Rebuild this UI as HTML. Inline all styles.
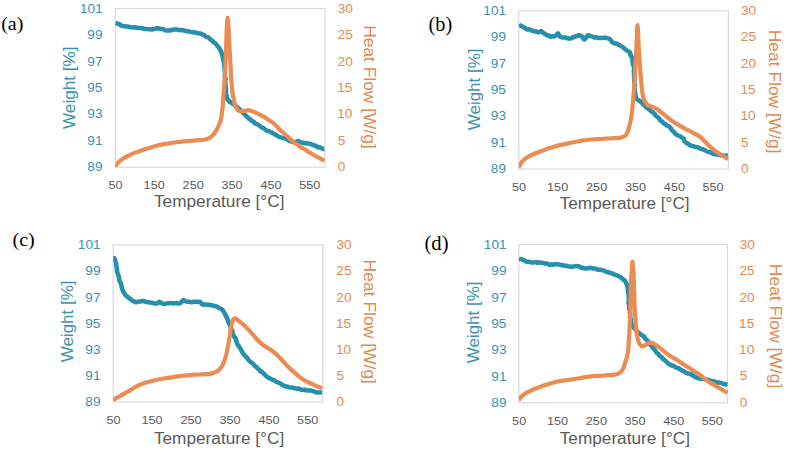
<!DOCTYPE html>
<html><head><meta charset="utf-8"><style>
html,body{margin:0;padding:0;background:#fff;}
body{width:787px;height:451px;overflow:hidden;}
svg{display:block;}
</style></head><body>
<svg width="787" height="451" viewBox="0 0 787 451">
<rect width="787" height="451" fill="#fff"/>
<rect x="115.30" y="8.50" width="209.70" height="158.70" fill="none" stroke="#D9D9D9" stroke-width="1.2"/>
<clipPath id="ca"><rect x="115.30" y="2.50" width="210.20" height="164.70"/></clipPath>
<g clip-path="url(#ca)">
<path d="M115.2,22.5 L115.6,22.9 L116.5,23.1 L117.3,23.6 L118.2,23.9 L119.2,24.0 L119.9,24.4 L120.6,25.1 L121.3,25.6 L122.2,25.7 L122.9,26.0 L123.8,26.2 L124.8,26.2 L125.7,26.4 L126.7,26.5 L127.6,26.5 L128.5,26.7 L129.4,27.0 L130.4,27.1 L131.3,27.3 L132.2,27.4 L133.2,27.3 L134.1,27.3 L135.0,27.5 L135.9,27.5 L136.8,27.7 L137.7,27.9 L138.6,28.1 L139.5,28.1 L140.4,28.0 L141.3,28.0 L142.3,28.2 L143.2,28.5 L144.1,28.8 L145.0,29.0 L145.9,29.0 L146.8,28.9 L147.8,29.1 L148.7,29.3 L149.6,29.3 L150.5,29.2 L151.5,29.4 L152.4,29.5 L153.3,29.1 L154.2,28.9 L155.1,28.8 L156.0,28.5 L156.9,28.3 L157.8,28.3 L158.7,28.5 L159.6,28.7 L160.5,28.7 L161.5,28.9 L162.4,29.1 L163.4,29.1 L164.2,29.7 L165.0,30.3 L166.0,30.4 L167.0,30.4 L167.9,30.5 L168.7,30.5 L169.7,30.5 L170.6,30.4 L171.4,30.0 L172.2,29.7 L172.9,29.6 L174.1,29.4 L175.3,29.4 L176.0,29.6 L176.9,29.4 L177.8,29.6 L178.7,30.0 L179.7,30.2 L180.6,30.1 L181.6,29.9 L182.4,30.1 L183.3,30.4 L184.2,30.4 L185.1,30.8 L186.0,31.2 L186.9,31.2 L187.8,31.2 L188.6,31.4 L189.5,31.7 L190.4,31.9 L191.3,32.1 L192.2,32.2 L193.0,32.2 L193.9,32.4 L194.8,32.5 L195.7,32.6 L196.5,32.9 L197.5,32.9 L198.3,33.1 L199.2,33.4 L200.2,33.5 L201.1,33.7 L202.0,34.1 L202.7,34.6 L203.6,34.9 L204.4,35.2 L205.0,35.9 L205.7,36.5 L206.5,36.9 L207.3,37.1 L208.3,37.3 L209.0,37.9 L209.6,38.7 L210.3,39.2 L210.9,39.8 L211.6,40.3 L212.3,40.8 L212.9,41.3 L213.5,42.0 L214.0,42.6 L214.7,43.1 L215.5,43.5 L216.2,44.1 L216.7,44.9 L217.2,45.7 L217.8,46.5 L218.4,47.1 L219.0,47.7 L219.4,48.6 L219.8,49.4 L220.3,50.1 L220.9,50.8 L221.2,51.7 L221.4,52.4 L221.7,53.1 L221.9,53.8 L222.0,54.6 L222.4,55.5 L222.8,56.5 L222.8,57.2 L222.8,58.0 L223.0,58.7 L223.3,59.5 L223.4,60.4 L223.6,61.3 L224.0,62.2 L224.1,63.1 L224.2,64.0 L224.5,64.9 L224.4,65.7 L224.1,66.6 L224.5,67.3 L224.7,68.1 L224.6,68.9 L224.7,69.8 L224.7,70.6 L224.7,71.5 L225.0,72.3 L225.0,73.2 L225.0,74.1 L224.9,75.0 L224.8,75.8 L224.9,76.5 L225.1,77.3 L225.5,78.1 L225.6,78.9 L225.4,79.8 L225.3,80.6 L225.2,81.5 L225.3,82.3 L225.4,83.1 L225.4,83.9 L225.3,84.7 L225.6,85.5 L225.7,86.3 L225.8,87.0 L225.9,88.0 L226.0,88.9 L226.0,89.9 L225.9,90.9 L226.0,91.8 L226.1,92.7 L225.9,93.6 L225.9,94.4 L226.4,95.1 L226.7,95.8 L226.4,96.5 L226.6,97.7 L227.2,98.5 L227.4,99.3 L227.9,99.9 L228.6,100.4 L229.1,101.2 L229.6,102.0 L230.6,102.2 L231.6,102.6 L232.1,103.2 L232.6,103.8 L233.2,104.3 L233.9,104.6 L234.7,105.1 L235.3,105.7 L236.0,106.2 L236.7,106.6 L237.3,107.2 L237.9,107.8 L238.5,108.5 L239.3,109.0 L240.0,109.5 L240.6,110.1 L241.2,110.7 L241.9,111.3 L242.6,111.9 L243.1,112.7 L243.6,113.4 L244.3,114.0 L244.9,114.6 L245.6,115.2 L246.1,115.9 L246.8,116.6 L247.6,117.1 L248.2,117.7 L248.7,118.5 L249.5,119.0 L250.4,119.3 L251.0,119.9 L251.5,120.6 L252.2,121.0 L253.0,121.4 L253.7,121.7 L254.2,122.4 L254.6,123.2 L255.3,123.7 L256.2,123.9 L257.0,124.1 L257.8,124.5 L258.5,124.9 L259.2,125.5 L259.9,126.1 L260.6,126.6 L261.3,127.1 L262.0,127.5 L262.9,127.8 L263.6,128.2 L264.3,128.8 L264.9,129.3 L265.6,129.8 L266.3,130.3 L267.1,130.6 L267.8,130.9 L268.7,131.1 L269.5,131.4 L270.2,131.9 L270.9,132.3 L271.7,132.5 L272.3,133.0 L273.0,133.5 L274.0,133.6 L274.7,134.0 L275.2,134.6 L276.0,135.1 L276.8,135.3 L277.5,135.7 L278.2,136.3 L279.0,136.9 L279.9,137.2 L280.7,137.3 L281.5,137.6 L282.4,137.9 L283.3,138.1 L284.2,138.2 L285.1,138.5 L285.9,138.9 L286.8,139.3 L287.6,139.7 L288.4,140.3 L289.2,140.7 L290.0,141.1 L290.8,141.3 L291.7,141.5 L292.6,142.0 L293.4,142.3 L294.3,142.3 L295.0,142.2 L296.1,142.0 L296.9,141.4 L297.9,141.1 L298.7,141.2 L299.5,141.6 L300.3,142.1 L301.1,142.3 L301.9,142.4 L302.9,142.8 L303.8,142.9 L304.9,143.1 L305.6,143.4 L306.4,143.6 L307.2,143.6 L308.2,143.6 L309.1,143.6 L310.0,143.8 L310.8,144.1 L311.6,144.4 L312.4,144.8 L313.2,145.0 L314.0,145.3 L314.9,145.6 L315.8,145.6 L316.5,146.2 L317.2,147.0 L318.1,147.3 L319.0,147.3 L319.9,147.5 L320.9,147.8 L321.9,148.3 L322.8,148.9 L323.7,149.0 L324.4,149.0" fill="none" stroke="#2490AD" stroke-width="4.5" stroke-linejoin="round" stroke-linecap="butt"/>
<path d="M115.30,166.80 C115.52,166.42 115.95,165.38 116.60,164.50 C117.25,163.62 118.03,162.55 119.20,161.50 C120.37,160.45 121.97,159.23 123.60,158.20 C125.23,157.17 127.07,156.23 129.00,155.30 C130.93,154.37 133.13,153.42 135.20,152.60 C137.27,151.78 139.18,151.13 141.40,150.40 C143.62,149.67 146.13,148.93 148.50,148.20 C150.87,147.47 153.23,146.63 155.60,146.00 C157.97,145.37 160.30,144.87 162.70,144.40 C165.10,143.93 167.60,143.57 170.00,143.20 C172.40,142.83 174.73,142.52 177.10,142.20 C179.47,141.88 181.83,141.52 184.20,141.30 C186.57,141.08 188.93,141.08 191.30,140.90 C193.67,140.72 196.03,140.43 198.40,140.20 C200.77,139.97 203.73,139.83 205.50,139.50 C207.27,139.17 207.82,138.87 209.00,138.20 C210.18,137.53 211.42,136.77 212.60,135.50 C213.78,134.23 215.07,132.30 216.10,130.60 C217.13,128.90 217.98,127.23 218.80,125.30 C219.62,123.37 220.42,121.55 221.00,119.00 C221.58,116.45 221.93,113.17 222.30,110.00 C222.67,106.83 222.93,103.33 223.20,100.00 C223.47,96.67 223.62,94.17 223.90,90.00 C224.18,85.83 224.62,80.00 224.90,75.00 C225.18,70.00 225.38,65.00 225.60,60.00 C225.82,55.00 226.02,50.00 226.20,45.00 C226.38,40.00 226.47,34.58 226.70,30.00 C226.93,25.42 227.28,17.50 227.60,17.50 C227.92,17.50 228.30,25.42 228.60,30.00 C228.90,34.58 229.13,40.00 229.40,45.00 C229.67,50.00 229.97,55.83 230.20,60.00 C230.43,64.17 230.58,66.40 230.80,70.00 C231.02,73.60 231.22,77.77 231.50,81.60 C231.78,85.43 232.12,90.02 232.50,93.00 C232.88,95.98 233.37,97.45 233.80,99.50 C234.23,101.55 234.43,103.52 235.10,105.30 C235.77,107.08 236.77,109.23 237.80,110.20 C238.83,111.17 239.98,111.03 241.30,111.10 C242.62,111.17 244.37,110.73 245.70,110.60 C247.03,110.47 247.97,110.10 249.30,110.30 C250.63,110.50 252.22,111.22 253.70,111.80 C255.18,112.38 256.57,113.00 258.20,113.80 C259.83,114.60 261.73,115.57 263.50,116.60 C265.27,117.63 267.05,118.83 268.80,120.00 C270.55,121.17 272.13,121.98 274.00,123.60 C275.87,125.22 278.17,127.93 280.00,129.70 C281.83,131.47 283.33,132.67 285.00,134.20 C286.67,135.73 288.33,137.40 290.00,138.90 C291.67,140.40 293.33,141.92 295.00,143.20 C296.67,144.48 298.33,145.55 300.00,146.60 C301.67,147.65 303.33,148.47 305.00,149.50 C306.67,150.53 308.33,151.75 310.00,152.80 C311.67,153.85 313.33,154.87 315.00,155.80 C316.67,156.73 318.43,157.53 320.00,158.40 C321.57,159.27 323.67,160.57 324.40,161.00" fill="none" stroke="#EB8C52" stroke-width="4.2" stroke-linejoin="round" stroke-linecap="butt"/>
</g>
<text x="79.89" y="12.68" font-family="Liberation Sans" font-size="13" fill="#3C92AF" textLength="22.77" lengthAdjust="spacingAndGlyphs">101</text>
<text x="87.39" y="39.14" font-family="Liberation Sans" font-size="13" fill="#3C92AF" textLength="15.18" lengthAdjust="spacingAndGlyphs">99</text>
<text x="87.39" y="65.59" font-family="Liberation Sans" font-size="13" fill="#3C92AF" textLength="15.18" lengthAdjust="spacingAndGlyphs">97</text>
<text x="87.26" y="92.03" font-family="Liberation Sans" font-size="13" fill="#3C92AF" textLength="15.18" lengthAdjust="spacingAndGlyphs">95</text>
<text x="87.39" y="118.48" font-family="Liberation Sans" font-size="13" fill="#3C92AF" textLength="15.18" lengthAdjust="spacingAndGlyphs">93</text>
<text x="87.39" y="144.94" font-family="Liberation Sans" font-size="13" fill="#3C92AF" textLength="15.18" lengthAdjust="spacingAndGlyphs">91</text>
<text x="87.39" y="171.38" font-family="Liberation Sans" font-size="13" fill="#3C92AF" textLength="15.18" lengthAdjust="spacingAndGlyphs">89</text>
<text x="337.75" y="12.68" font-family="Liberation Sans" font-size="13" fill="#DF8A50" textLength="15.18" lengthAdjust="spacingAndGlyphs">30</text>
<text x="337.62" y="39.14" font-family="Liberation Sans" font-size="13" fill="#DF8A50" textLength="15.18" lengthAdjust="spacingAndGlyphs">25</text>
<text x="337.62" y="65.59" font-family="Liberation Sans" font-size="13" fill="#DF8A50" textLength="15.18" lengthAdjust="spacingAndGlyphs">20</text>
<text x="337.21" y="91.97" font-family="Liberation Sans" font-size="13" fill="#DF8A50" textLength="15.18" lengthAdjust="spacingAndGlyphs">15</text>
<text x="337.21" y="118.48" font-family="Liberation Sans" font-size="13" fill="#DF8A50" textLength="15.18" lengthAdjust="spacingAndGlyphs">10</text>
<text x="337.75" y="144.87" font-family="Liberation Sans" font-size="13" fill="#DF8A50" textLength="7.59" lengthAdjust="spacingAndGlyphs">5</text>
<text x="337.75" y="171.38" font-family="Liberation Sans" font-size="13" fill="#DF8A50" textLength="7.59" lengthAdjust="spacingAndGlyphs">0</text>
<text x="108.52" y="189.37" font-family="Liberation Sans" font-size="11.5" fill="#595959" textLength="14.07" lengthAdjust="spacingAndGlyphs">50</text>
<text x="143.62" y="189.37" font-family="Liberation Sans" font-size="11.5" fill="#595959" textLength="21.10" lengthAdjust="spacingAndGlyphs">150</text>
<text x="182.64" y="189.37" font-family="Liberation Sans" font-size="11.5" fill="#595959" textLength="21.10" lengthAdjust="spacingAndGlyphs">250</text>
<text x="221.54" y="189.37" font-family="Liberation Sans" font-size="11.5" fill="#595959" textLength="21.10" lengthAdjust="spacingAndGlyphs">350</text>
<text x="260.50" y="189.37" font-family="Liberation Sans" font-size="11.5" fill="#595959" textLength="21.10" lengthAdjust="spacingAndGlyphs">450</text>
<text x="299.20" y="189.37" font-family="Liberation Sans" font-size="11.5" fill="#595959" textLength="21.10" lengthAdjust="spacingAndGlyphs">550</text>
<text x="1.20" y="29.87" font-family="Liberation Serif" font-size="19.67" fill="#000" textLength="22.30" lengthAdjust="spacingAndGlyphs">(a)</text>
<text transform="translate(74.96,129.00) rotate(-90)" font-family="Liberation Sans" font-size="15.91" fill="#3C92AF" textLength="82.54" lengthAdjust="spacingAndGlyphs">Weight [%]</text>
<text transform="translate(364.01,25.21) rotate(90)" font-family="Liberation Sans" font-size="16.24" fill="#DF8A50" textLength="123.55" lengthAdjust="spacingAndGlyphs">Heat Flow [W/g]</text>
<text x="153.96" y="207.03" font-family="Liberation Sans" font-size="16.29" fill="#595959" textLength="130.53" lengthAdjust="spacingAndGlyphs">Temperature [°C]</text>
<rect x="518.80" y="10.80" width="209.50" height="158.20" fill="none" stroke="#D9D9D9" stroke-width="1.2"/>
<clipPath id="cb"><rect x="518.80" y="4.80" width="210.00" height="164.20"/></clipPath>
<g clip-path="url(#cb)">
<path d="M518.8,24.5 L519.3,25.0 L520.2,25.5 L521.3,25.9 L522.3,26.4 L523.0,26.9 L523.7,27.4 L524.6,27.7 L525.4,28.1 L526.0,28.8 L526.7,29.4 L527.6,29.4 L528.5,29.3 L529.3,29.4 L530.1,29.6 L530.8,29.9 L531.5,30.4 L532.3,30.8 L533.1,31.0 L533.9,31.3 L534.8,31.4 L535.9,31.4 L536.9,31.7 L537.7,32.2 L538.5,32.3 L539.3,32.0 L540.0,31.5 L540.8,31.2 L541.6,31.3 L542.2,31.9 L542.8,32.7 L543.8,33.4 L544.6,33.5 L545.3,34.0 L546.0,34.7 L546.8,35.2 L547.8,35.3 L548.6,35.5 L549.4,36.3 L550.4,36.8 L551.5,36.5 L552.5,36.3 L553.3,36.4 L554.3,36.4 L555.0,35.9 L555.7,35.4 L556.4,35.2 L557.1,34.1 L557.9,33.3 L558.5,34.0 L558.9,35.0 L559.5,36.0 L560.2,36.9 L561.1,37.1 L562.0,37.2 L562.9,37.6 L563.9,37.6 L564.9,37.4 L565.7,37.6 L566.5,38.0 L567.3,38.3 L568.1,38.4 L568.9,38.4 L569.6,38.5 L570.8,38.5 L571.7,38.1 L572.5,37.4 L573.2,37.1 L574.0,37.0 L574.8,36.8 L575.6,36.3 L576.4,36.2 L577.4,35.8 L578.3,35.3 L579.2,35.3 L579.9,35.5 L580.6,35.7 L581.3,35.9 L582.0,36.4 L582.5,37.0 L582.9,38.0 L583.5,38.9 L584.4,39.4 L585.3,38.8 L585.9,37.9 L586.5,37.1 L587.0,36.4 L587.4,35.8 L588.0,35.3 L588.8,35.2 L589.6,35.6 L590.5,36.1 L591.6,36.4 L592.5,36.7 L593.2,37.0 L594.1,37.4 L595.0,37.5 L595.9,37.3 L596.8,37.4 L597.7,37.9 L598.5,38.1 L599.4,37.9 L600.4,37.8 L601.3,38.0 L602.2,38.0 L603.1,37.9 L604.1,37.7 L605.0,37.6 L606.0,37.9 L606.9,38.1 L607.7,38.3 L608.4,38.5 L609.5,39.0 L610.3,39.5 L610.9,40.3 L611.5,41.1 L612.2,41.9 L612.9,42.7 L613.6,43.1 L614.4,43.3 L615.4,43.4 L616.5,43.6 L617.3,43.7 L618.0,44.2 L618.6,44.8 L619.4,45.2 L620.2,45.6 L620.9,46.1 L621.6,46.5 L622.4,46.8 L623.1,47.3 L623.7,48.0 L624.4,48.6 L625.0,49.0 L625.7,49.5 L626.3,50.1 L627.0,50.7 L627.8,51.0 L628.5,51.5 L629.2,51.8 L630.0,52.5 L630.2,53.5 L630.4,54.5 L630.8,55.4 L631.0,56.1 L631.3,56.6 L631.9,57.2 L632.3,57.8 L632.4,58.8 L632.4,60.0 L632.4,60.6 L632.5,61.3 L632.8,62.0 L632.9,62.7 L632.7,63.5 L632.9,64.2 L633.4,65.0 L633.6,65.8 L633.9,66.7 L634.1,67.6 L634.1,68.6 L634.4,69.5 L634.3,70.6 L633.7,71.3 L633.8,72.0 L634.2,72.8 L634.2,73.5 L634.0,74.4 L634.0,75.2 L634.0,76.0 L634.0,76.9 L634.2,77.7 L634.3,78.6 L634.3,79.5 L634.3,80.3 L634.3,81.2 L634.1,82.0 L634.3,82.9 L634.7,83.6 L635.0,84.4 L635.0,85.2 L634.8,85.9 L634.4,86.6 L634.4,87.6 L634.7,88.6 L634.9,89.6 L634.8,90.5 L634.6,91.5 L634.8,92.3 L635.0,93.2 L635.2,93.9 L635.5,94.7 L635.6,95.4 L635.6,96.1 L635.7,96.7 L635.9,97.3 L636.5,98.4 L637.1,99.1 L637.6,99.8 L638.3,100.2 L639.3,100.6 L639.9,101.1 L640.5,101.8 L641.2,102.4 L641.9,103.0 L642.6,103.7 L643.3,104.3 L643.9,104.9 L644.7,105.4 L645.3,106.0 L645.7,106.8 L646.2,107.4 L646.9,107.8 L647.5,108.3 L648.4,108.8 L649.0,109.4 L649.7,109.9 L650.5,110.4 L651.0,111.1 L651.5,111.7 L652.3,112.0 L653.1,112.5 L653.6,113.2 L654.5,113.7 L655.0,114.3 L655.3,115.1 L655.8,115.8 L656.6,116.3 L657.3,116.8 L658.0,117.3 L658.5,117.9 L659.1,118.5 L659.7,119.2 L660.1,120.0 L660.6,120.7 L661.4,121.1 L662.1,121.5 L662.8,122.0 L663.2,122.8 L663.9,123.5 L664.9,123.7 L665.6,124.2 L666.1,125.0 L666.9,125.5 L667.8,125.9 L668.6,126.2 L669.3,126.7 L669.9,127.3 L670.5,127.9 L671.1,128.5 L671.5,129.4 L671.9,130.2 L672.5,130.9 L673.3,131.4 L674.0,132.0 L674.6,132.8 L675.2,133.5 L675.7,134.3 L676.4,134.7 L677.5,135.1 L678.3,135.5 L679.1,135.8 L679.9,136.2 L680.6,136.6 L681.3,137.0 L682.0,137.5 L682.6,138.0 L683.2,138.4 L683.9,138.9 L684.2,139.7 L684.2,140.5 L684.6,141.3 L685.1,141.9 L685.7,142.5 L686.5,142.9 L687.4,143.2 L688.1,143.8 L688.9,144.5 L689.6,144.8 L690.3,145.3 L691.1,145.7 L691.9,145.9 L692.8,146.0 L693.6,146.3 L694.4,146.6 L695.2,146.9 L696.0,147.0 L696.9,147.0 L697.7,147.3 L698.4,147.7 L699.2,148.1 L700.0,148.4 L700.7,148.8 L701.5,149.1 L702.4,149.2 L703.2,149.3 L704.0,149.8 L704.7,150.2 L705.5,150.5 L706.2,151.0 L706.9,151.5 L707.7,151.8 L708.6,151.9 L709.5,151.9 L710.3,152.1 L711.0,152.7 L711.7,153.1 L712.5,153.5 L713.3,153.9 L714.1,154.1 L715.0,154.1 L715.8,154.3 L716.6,154.6 L717.5,154.8 L718.5,154.8 L719.4,154.9 L720.3,155.3 L721.2,155.4 L722.1,155.4 L722.9,155.5 L723.8,155.8 L724.8,155.9 L725.7,155.7 L726.5,155.6 L727.2,155.6 L727.7,155.7" fill="none" stroke="#2490AD" stroke-width="4.5" stroke-linejoin="round" stroke-linecap="butt"/>
<path d="M518.80,167.50 C518.97,167.13 519.23,166.30 519.80,165.30 C520.37,164.30 521.20,162.65 522.20,161.50 C523.20,160.35 524.47,159.37 525.80,158.40 C527.13,157.43 528.58,156.57 530.20,155.70 C531.82,154.83 533.73,153.93 535.50,153.20 C537.27,152.47 539.02,151.95 540.80,151.30 C542.58,150.65 544.42,149.92 546.20,149.30 C547.98,148.68 549.73,148.15 551.50,147.60 C553.27,147.05 555.03,146.50 556.80,146.00 C558.57,145.50 560.32,145.02 562.10,144.60 C563.88,144.18 565.85,143.85 567.50,143.50 C569.15,143.15 570.07,142.88 572.00,142.50 C573.93,142.12 576.73,141.62 579.10,141.20 C581.47,140.78 583.83,140.30 586.20,140.00 C588.57,139.70 590.93,139.57 593.30,139.40 C595.67,139.23 598.03,139.15 600.40,139.00 C602.77,138.85 605.13,138.63 607.50,138.50 C609.87,138.37 612.38,138.35 614.60,138.20 C616.82,138.05 619.17,137.92 620.80,137.60 C622.43,137.28 623.43,136.88 624.40,136.30 C625.37,135.72 625.95,135.13 626.60,134.10 C627.25,133.07 627.78,131.65 628.30,130.10 C628.82,128.55 629.27,126.57 629.70,124.80 C630.13,123.03 630.55,121.47 630.90,119.50 C631.25,117.53 631.43,116.25 631.80,113.00 C632.17,109.75 632.70,104.40 633.10,100.00 C633.50,95.60 633.88,91.05 634.20,86.60 C634.52,82.15 634.73,77.73 635.00,73.30 C635.27,68.87 635.55,64.72 635.80,60.00 C636.05,55.28 636.30,49.50 636.50,45.00 C636.70,40.50 636.83,36.33 637.00,33.00 C637.17,29.67 637.32,25.00 637.50,25.00 C637.68,25.00 637.92,29.67 638.10,33.00 C638.28,36.33 638.37,40.50 638.60,45.00 C638.83,49.50 639.18,55.28 639.50,60.00 C639.82,64.72 640.13,68.87 640.50,73.30 C640.87,77.73 641.28,82.73 641.70,86.60 C642.12,90.47 642.52,94.10 643.00,96.50 C643.48,98.90 643.85,99.62 644.60,101.00 C645.35,102.38 646.43,103.92 647.50,104.80 C648.57,105.68 649.48,105.62 651.00,106.30 C652.52,106.98 654.92,107.92 656.60,108.90 C658.28,109.88 659.43,110.92 661.10,112.20 C662.77,113.48 664.75,115.12 666.60,116.60 C668.45,118.08 670.35,119.80 672.20,121.10 C674.05,122.40 675.87,123.32 677.70,124.40 C679.53,125.48 681.35,126.58 683.20,127.60 C685.05,128.62 686.95,129.52 688.80,130.50 C690.65,131.48 692.43,132.47 694.30,133.50 C696.17,134.53 698.32,135.43 700.00,136.70 C701.68,137.97 702.93,139.63 704.40,141.10 C705.87,142.57 707.32,144.12 708.80,145.50 C710.28,146.88 711.82,148.20 713.30,149.40 C714.78,150.60 716.23,151.68 717.70,152.70 C719.17,153.72 720.62,154.58 722.10,155.50 C723.58,156.42 725.58,157.62 726.60,158.20 C727.62,158.78 727.93,158.87 728.20,159.00" fill="none" stroke="#EB8C52" stroke-width="4.2" stroke-linejoin="round" stroke-linecap="butt"/>
</g>
<text x="483.39" y="14.98" font-family="Liberation Sans" font-size="13" fill="#3C92AF" textLength="22.77" lengthAdjust="spacingAndGlyphs">101</text>
<text x="490.89" y="41.35" font-family="Liberation Sans" font-size="13" fill="#3C92AF" textLength="15.18" lengthAdjust="spacingAndGlyphs">99</text>
<text x="490.89" y="67.72" font-family="Liberation Sans" font-size="13" fill="#3C92AF" textLength="15.18" lengthAdjust="spacingAndGlyphs">97</text>
<text x="490.76" y="94.08" font-family="Liberation Sans" font-size="13" fill="#3C92AF" textLength="15.18" lengthAdjust="spacingAndGlyphs">95</text>
<text x="490.89" y="120.45" font-family="Liberation Sans" font-size="13" fill="#3C92AF" textLength="15.18" lengthAdjust="spacingAndGlyphs">93</text>
<text x="490.89" y="146.82" font-family="Liberation Sans" font-size="13" fill="#3C92AF" textLength="15.18" lengthAdjust="spacingAndGlyphs">91</text>
<text x="490.89" y="173.19" font-family="Liberation Sans" font-size="13" fill="#3C92AF" textLength="15.18" lengthAdjust="spacingAndGlyphs">89</text>
<text x="740.95" y="14.98" font-family="Liberation Sans" font-size="13" fill="#DF8A50" textLength="15.18" lengthAdjust="spacingAndGlyphs">30</text>
<text x="740.82" y="41.35" font-family="Liberation Sans" font-size="13" fill="#DF8A50" textLength="15.18" lengthAdjust="spacingAndGlyphs">25</text>
<text x="740.82" y="67.72" font-family="Liberation Sans" font-size="13" fill="#DF8A50" textLength="15.18" lengthAdjust="spacingAndGlyphs">20</text>
<text x="740.41" y="94.02" font-family="Liberation Sans" font-size="13" fill="#DF8A50" textLength="15.18" lengthAdjust="spacingAndGlyphs">15</text>
<text x="740.41" y="120.45" font-family="Liberation Sans" font-size="13" fill="#DF8A50" textLength="15.18" lengthAdjust="spacingAndGlyphs">10</text>
<text x="740.95" y="146.75" font-family="Liberation Sans" font-size="13" fill="#DF8A50" textLength="7.59" lengthAdjust="spacingAndGlyphs">5</text>
<text x="740.95" y="173.19" font-family="Liberation Sans" font-size="13" fill="#DF8A50" textLength="7.59" lengthAdjust="spacingAndGlyphs">0</text>
<text x="512.02" y="191.17" font-family="Liberation Sans" font-size="11.5" fill="#595959" textLength="14.07" lengthAdjust="spacingAndGlyphs">50</text>
<text x="547.08" y="191.17" font-family="Liberation Sans" font-size="11.5" fill="#595959" textLength="21.10" lengthAdjust="spacingAndGlyphs">150</text>
<text x="586.07" y="191.17" font-family="Liberation Sans" font-size="11.5" fill="#595959" textLength="21.10" lengthAdjust="spacingAndGlyphs">250</text>
<text x="624.93" y="191.17" font-family="Liberation Sans" font-size="11.5" fill="#595959" textLength="21.10" lengthAdjust="spacingAndGlyphs">350</text>
<text x="663.85" y="191.17" font-family="Liberation Sans" font-size="11.5" fill="#595959" textLength="21.10" lengthAdjust="spacingAndGlyphs">450</text>
<text x="702.52" y="191.17" font-family="Liberation Sans" font-size="11.5" fill="#595959" textLength="21.10" lengthAdjust="spacingAndGlyphs">550</text>
<text x="428.49" y="31.10" font-family="Liberation Serif" font-size="20.00" fill="#000" textLength="23.75" lengthAdjust="spacingAndGlyphs">(b)</text>
<text transform="translate(480.43,130.30) rotate(-90)" font-family="Liberation Sans" font-size="16.99" fill="#3C92AF" textLength="81.83" lengthAdjust="spacingAndGlyphs">Weight [%]</text>
<text transform="translate(769.01,29.81) rotate(90)" font-family="Liberation Sans" font-size="16.24" fill="#DF8A50" textLength="123.75" lengthAdjust="spacingAndGlyphs">Heat Flow [W/g]</text>
<text x="559.76" y="208.86" font-family="Liberation Sans" font-size="15.91" fill="#595959" textLength="129.82" lengthAdjust="spacingAndGlyphs">Temperature [°C]</text>
<rect x="113.20" y="245.00" width="209.70" height="157.00" fill="none" stroke="#D9D9D9" stroke-width="1.2"/>
<clipPath id="cc"><rect x="113.20" y="239.00" width="210.20" height="163.00"/></clipPath>
<g clip-path="url(#cc)">
<path d="M113.6,256.3 L113.8,256.9 L114.1,257.8 L114.6,259.0 L114.9,259.6 L115.3,260.3 L115.4,261.1 L115.6,261.9 L116.0,262.8 L116.2,263.6 L116.2,264.6 L116.3,265.4 L116.4,266.2 L116.5,267.0 L116.6,267.9 L116.9,268.7 L117.1,269.6 L117.0,270.5 L117.0,271.4 L117.2,272.2 L117.6,273.0 L117.9,273.8 L118.0,274.7 L118.3,275.5 L118.7,276.3 L119.0,277.0 L119.2,277.9 L119.2,278.8 L119.3,279.7 L119.5,280.6 L119.7,281.4 L120.2,282.2 L120.7,283.0 L120.9,283.8 L121.3,284.6 L121.6,285.5 L121.6,286.5 L121.6,287.5 L121.9,288.3 L122.2,289.1 L122.7,289.9 L123.0,290.8 L123.2,291.7 L123.7,292.4 L124.4,293.1 L124.8,293.9 L125.1,294.6 L125.8,295.3 L126.5,296.0 L127.3,296.5 L127.9,297.1 L128.6,297.8 L129.2,298.3 L129.9,298.7 L130.6,299.2 L131.1,299.8 L131.8,300.4 L132.4,300.8 L133.3,301.2 L134.2,301.5 L135.0,301.9 L135.7,302.3 L136.6,302.3 L137.4,302.0 L138.1,301.7 L138.9,301.4 L139.8,301.6 L140.6,301.6 L141.4,301.1 L142.3,300.9 L143.1,301.0 L144.0,301.2 L145.0,301.6 L145.8,301.8 L146.6,301.9 L147.5,302.2 L148.4,302.4 L149.3,302.4 L150.3,302.4 L151.1,302.6 L152.0,302.8 L153.0,302.9 L153.9,303.4 L154.8,303.6 L155.7,303.5 L156.5,303.4 L157.2,303.4 L158.3,303.0 L158.7,302.3 L159.2,301.8 L159.9,301.9 L160.6,302.5 L161.4,303.0 L162.3,303.5 L163.3,303.8 L164.1,304.0 L164.9,304.0 L165.8,303.6 L166.6,303.4 L167.6,303.2 L168.5,303.2 L169.4,303.2 L170.3,303.1 L171.2,302.9 L172.1,303.2 L173.0,303.5 L173.8,303.4 L174.7,303.2 L175.5,303.2 L176.5,303.1 L177.4,303.4 L178.3,303.6 L179.2,303.6 L179.9,303.2 L180.4,303.0 L181.2,302.6 L181.8,301.7 L182.2,300.9 L182.7,300.5 L183.3,300.2 L184.1,300.3 L184.9,300.7 L185.8,301.2 L186.7,301.6 L187.7,301.8 L188.5,301.8 L189.4,301.8 L190.3,301.9 L191.2,302.2 L192.1,302.3 L193.0,301.9 L193.8,301.7 L194.7,301.9 L195.6,301.8 L196.4,301.7 L197.3,301.8 L198.1,301.8 L198.9,301.9 L199.9,301.9 L200.8,302.3 L201.3,303.3 L201.9,304.2 L202.8,304.6 L203.6,304.7 L204.5,304.4 L205.3,304.4 L206.2,304.6 L207.1,304.7 L208.0,304.8 L208.9,304.8 L209.7,304.9 L210.6,305.2 L211.6,305.3 L212.5,305.4 L213.3,305.6 L214.1,306.0 L215.0,306.1 L216.0,306.3 L216.8,306.6 L217.5,306.9 L218.1,307.5 L218.9,308.1 L219.9,308.4 L220.9,308.6 L221.7,309.2 L222.4,310.0 L223.1,310.6 L223.6,311.4 L224.1,312.4 L224.5,313.1 L224.8,313.8 L225.2,314.5 L225.7,315.3 L225.9,316.3 L226.4,317.2 L226.9,317.7 L227.3,318.4 L227.3,319.2 L227.6,320.0 L228.2,320.7 L228.5,321.5 L228.5,322.5 L228.7,323.3 L229.4,324.0 L229.9,324.8 L230.1,325.5 L230.4,326.3 L230.6,327.1 L230.7,328.0 L230.9,328.8 L231.4,329.6 L232.1,330.2 L232.4,331.0 L232.3,331.9 L232.4,332.8 L232.8,333.4 L233.1,334.3 L233.3,335.2 L233.7,335.9 L234.2,336.6 L234.6,337.3 L235.3,337.9 L235.7,338.6 L235.7,339.6 L235.9,340.4 L236.4,341.1 L236.7,341.9 L237.0,342.7 L237.3,343.5 L237.5,344.4 L237.9,345.2 L238.6,345.8 L239.1,346.5 L239.5,347.3 L239.9,348.0 L240.5,348.6 L241.0,349.4 L241.3,350.1 L241.8,350.9 L242.1,351.6 L242.4,352.5 L242.8,353.2 L243.4,353.9 L244.0,354.4 L244.5,355.1 L245.0,355.8 L245.5,356.4 L246.2,356.9 L246.8,357.5 L247.3,358.2 L247.8,358.8 L248.2,359.6 L248.7,360.3 L249.3,360.8 L249.8,361.4 L250.4,362.0 L251.2,362.5 L251.9,362.9 L252.6,363.4 L253.2,364.0 L253.9,364.5 L254.4,365.1 L254.7,365.9 L255.3,366.5 L256.2,366.8 L257.0,367.3 L257.4,368.1 L257.9,368.8 L258.7,369.3 L259.4,369.8 L259.9,370.8 L260.3,371.4 L261.1,371.6 L261.9,371.9 L262.5,372.5 L263.2,373.0 L263.7,373.7 L264.3,374.3 L264.9,374.8 L265.5,375.5 L266.1,376.0 L266.8,376.5 L267.4,377.0 L268.1,377.5 L268.8,377.9 L269.6,378.2 L270.3,378.6 L271.0,379.0 L271.7,379.3 L272.4,379.6 L273.2,380.1 L274.1,380.3 L274.9,380.7 L275.5,381.3 L276.2,381.7 L277.0,382.1 L277.8,382.4 L278.7,382.6 L279.4,383.1 L280.3,383.4 L281.0,383.9 L281.6,384.6 L282.4,385.1 L283.2,385.3 L284.0,385.6 L284.7,386.1 L285.5,386.5 L286.4,386.5 L287.2,386.6 L288.0,386.8 L288.7,387.1 L289.5,387.4 L290.3,387.6 L291.1,387.6 L292.0,387.6 L292.9,387.7 L293.8,388.0 L294.6,388.3 L295.5,388.4 L296.4,388.6 L297.3,388.7 L298.2,388.6 L299.1,388.6 L300.0,389.2 L300.8,389.7 L301.7,389.7 L302.6,389.7 L303.5,389.8 L304.4,389.6 L305.3,389.8 L306.1,390.3 L307.0,390.5 L307.9,390.6 L308.8,390.5 L309.7,390.5 L310.6,390.6 L311.5,390.7 L312.4,390.9 L313.3,391.2 L314.1,391.5 L315.0,391.9 L315.8,392.2 L316.8,392.3 L317.8,392.4 L318.8,392.5 L319.9,392.5 L320.8,392.5 L321.5,392.8 L322.1,392.9" fill="none" stroke="#2490AD" stroke-width="4.5" stroke-linejoin="round" stroke-linecap="butt"/>
<path d="M113.20,400.00 C113.98,399.52 116.47,397.92 117.90,397.10 C119.33,396.28 120.35,395.92 121.80,395.10 C123.25,394.28 124.98,393.17 126.60,392.20 C128.22,391.23 129.87,390.28 131.50,389.30 C133.13,388.32 134.77,387.15 136.40,386.30 C138.03,385.45 139.68,384.82 141.30,384.20 C142.92,383.58 144.48,383.08 146.10,382.60 C147.72,382.12 149.37,381.73 151.00,381.30 C152.63,380.87 154.27,380.38 155.90,380.00 C157.53,379.62 159.02,379.33 160.80,379.00 C162.58,378.67 164.73,378.28 166.60,378.00 C168.47,377.72 170.58,377.52 172.00,377.30 C173.42,377.08 173.40,376.93 175.10,376.70 C176.80,376.47 179.83,376.15 182.20,375.90 C184.57,375.65 186.93,375.40 189.30,375.20 C191.67,375.00 194.03,374.85 196.40,374.70 C198.77,374.55 201.28,374.45 203.50,374.30 C205.72,374.15 207.93,374.07 209.70,373.80 C211.47,373.53 212.77,373.17 214.10,372.70 C215.43,372.23 216.55,371.87 217.70,371.00 C218.85,370.13 220.05,368.78 221.00,367.50 C221.95,366.22 222.58,365.17 223.40,363.30 C224.22,361.43 225.10,359.35 225.90,356.30 C226.70,353.25 227.55,348.43 228.20,345.00 C228.85,341.57 229.28,338.80 229.80,335.70 C230.32,332.60 230.78,328.98 231.30,326.40 C231.82,323.82 232.25,321.55 232.90,320.20 C233.55,318.85 234.05,318.05 235.20,318.30 C236.35,318.55 238.25,320.48 239.80,321.70 C241.35,322.92 242.93,324.17 244.50,325.60 C246.07,327.03 247.65,328.62 249.20,330.30 C250.75,331.98 252.25,333.92 253.80,335.70 C255.35,337.48 256.95,339.45 258.50,341.00 C260.05,342.55 261.82,343.98 263.10,345.00 C264.38,346.02 264.65,346.10 266.20,347.10 C267.75,348.10 270.33,349.45 272.40,351.00 C274.47,352.55 276.53,354.33 278.60,356.40 C280.67,358.47 282.72,361.20 284.80,363.40 C286.88,365.60 289.02,367.67 291.10,369.60 C293.18,371.53 295.23,373.32 297.30,375.00 C299.37,376.68 301.43,378.40 303.50,379.70 C305.57,381.00 307.63,381.77 309.70,382.80 C311.77,383.83 313.83,385.00 315.90,385.90 C317.97,386.80 321.07,387.82 322.10,388.20" fill="none" stroke="#EB8C52" stroke-width="4.2" stroke-linejoin="round" stroke-linecap="butt"/>
</g>
<text x="77.89" y="249.19" font-family="Liberation Sans" font-size="13" fill="#3C92AF" textLength="22.77" lengthAdjust="spacingAndGlyphs">101</text>
<text x="85.39" y="275.35" font-family="Liberation Sans" font-size="13" fill="#3C92AF" textLength="15.18" lengthAdjust="spacingAndGlyphs">99</text>
<text x="85.39" y="301.52" font-family="Liberation Sans" font-size="13" fill="#3C92AF" textLength="15.18" lengthAdjust="spacingAndGlyphs">97</text>
<text x="85.26" y="327.69" font-family="Liberation Sans" font-size="13" fill="#3C92AF" textLength="15.18" lengthAdjust="spacingAndGlyphs">95</text>
<text x="85.39" y="353.85" font-family="Liberation Sans" font-size="13" fill="#3C92AF" textLength="15.18" lengthAdjust="spacingAndGlyphs">93</text>
<text x="85.39" y="380.02" font-family="Liberation Sans" font-size="13" fill="#3C92AF" textLength="15.18" lengthAdjust="spacingAndGlyphs">91</text>
<text x="85.39" y="406.19" font-family="Liberation Sans" font-size="13" fill="#3C92AF" textLength="15.18" lengthAdjust="spacingAndGlyphs">89</text>
<text x="336.45" y="249.19" font-family="Liberation Sans" font-size="13" fill="#DF8A50" textLength="15.18" lengthAdjust="spacingAndGlyphs">30</text>
<text x="336.32" y="275.35" font-family="Liberation Sans" font-size="13" fill="#DF8A50" textLength="15.18" lengthAdjust="spacingAndGlyphs">25</text>
<text x="336.32" y="301.52" font-family="Liberation Sans" font-size="13" fill="#DF8A50" textLength="15.18" lengthAdjust="spacingAndGlyphs">20</text>
<text x="335.91" y="327.62" font-family="Liberation Sans" font-size="13" fill="#DF8A50" textLength="15.18" lengthAdjust="spacingAndGlyphs">15</text>
<text x="335.91" y="353.85" font-family="Liberation Sans" font-size="13" fill="#DF8A50" textLength="15.18" lengthAdjust="spacingAndGlyphs">10</text>
<text x="336.45" y="379.95" font-family="Liberation Sans" font-size="13" fill="#DF8A50" textLength="7.59" lengthAdjust="spacingAndGlyphs">5</text>
<text x="336.45" y="406.19" font-family="Liberation Sans" font-size="13" fill="#DF8A50" textLength="7.59" lengthAdjust="spacingAndGlyphs">0</text>
<text x="106.42" y="424.17" font-family="Liberation Sans" font-size="11.5" fill="#595959" textLength="14.07" lengthAdjust="spacingAndGlyphs">50</text>
<text x="141.52" y="424.17" font-family="Liberation Sans" font-size="11.5" fill="#595959" textLength="21.10" lengthAdjust="spacingAndGlyphs">150</text>
<text x="180.54" y="424.17" font-family="Liberation Sans" font-size="11.5" fill="#595959" textLength="21.10" lengthAdjust="spacingAndGlyphs">250</text>
<text x="219.44" y="424.17" font-family="Liberation Sans" font-size="11.5" fill="#595959" textLength="21.10" lengthAdjust="spacingAndGlyphs">350</text>
<text x="258.40" y="424.17" font-family="Liberation Sans" font-size="11.5" fill="#595959" textLength="21.10" lengthAdjust="spacingAndGlyphs">450</text>
<text x="297.10" y="424.17" font-family="Liberation Sans" font-size="11.5" fill="#595959" textLength="21.10" lengthAdjust="spacingAndGlyphs">550</text>
<text x="12.50" y="245.57" font-family="Liberation Serif" font-size="19.67" fill="#000" textLength="22.30" lengthAdjust="spacingAndGlyphs">(c)</text>
<text transform="translate(72.87,362.30) rotate(-90)" font-family="Liberation Sans" font-size="16.34" fill="#3C92AF" textLength="81.83" lengthAdjust="spacingAndGlyphs">Weight [%]</text>
<text transform="translate(363.89,259.60) rotate(90)" font-family="Liberation Sans" font-size="16.13" fill="#DF8A50" textLength="124.37" lengthAdjust="spacingAndGlyphs">Heat Flow [W/g]</text>
<text x="153.96" y="444.09" font-family="Liberation Sans" font-size="16.24" fill="#595959" textLength="130.23" lengthAdjust="spacingAndGlyphs">Temperature [°C]</text>
<rect x="518.90" y="244.70" width="208.60" height="158.00" fill="none" stroke="#D9D9D9" stroke-width="1.2"/>
<clipPath id="cd"><rect x="518.90" y="238.70" width="209.10" height="164.00"/></clipPath>
<g clip-path="url(#cd)">
<path d="M518.9,258.5 L519.3,258.9 L520.1,258.9 L521.1,259.0 L522.0,259.4 L522.8,259.8 L523.6,260.1 L524.4,260.4 L525.1,260.8 L525.8,261.3 L526.5,261.7 L527.3,261.8 L528.2,261.8 L529.1,261.8 L530.0,262.0 L530.9,262.3 L531.9,262.4 L532.8,262.5 L533.7,262.6 L534.6,262.4 L535.5,262.0 L536.4,262.0 L537.3,262.7 L538.2,262.9 L539.1,262.4 L540.1,262.4 L541.0,262.7 L541.9,262.8 L542.8,262.9 L543.7,263.1 L544.6,263.4 L545.6,263.5 L546.5,263.5 L547.5,263.7 L548.3,264.2 L549.2,264.7 L550.1,264.7 L551.1,264.5 L552.0,264.4 L552.9,264.7 L553.8,264.7 L554.7,264.4 L555.6,264.1 L556.5,264.2 L557.5,264.3 L558.4,264.5 L559.3,264.6 L560.2,264.7 L561.1,265.0 L562.0,265.3 L563.0,265.3 L563.9,265.5 L564.8,265.7 L565.8,265.7 L566.7,265.8 L567.6,266.3 L568.5,266.5 L569.4,266.4 L570.4,266.5 L571.3,266.8 L572.2,266.9 L573.1,266.6 L573.8,266.4 L574.7,266.2 L575.4,265.9 L576.4,265.9 L577.2,266.1 L578.1,266.3 L579.1,266.5 L580.0,266.8 L580.9,267.5 L581.7,267.9 L582.6,267.8 L583.5,268.0 L584.4,268.3 L585.3,268.4 L586.2,268.4 L587.1,268.4 L588.0,268.1 L588.8,267.9 L589.7,267.9 L590.6,267.8 L591.5,268.0 L592.4,268.3 L593.2,268.5 L594.1,268.5 L595.1,268.5 L595.9,268.8 L596.8,269.3 L597.6,269.7 L598.5,269.8 L599.5,269.8 L600.5,269.8 L601.4,270.0 L602.3,270.2 L603.2,270.4 L604.1,270.6 L604.9,271.1 L605.7,271.7 L606.5,272.0 L607.5,272.0 L608.4,272.2 L609.3,272.5 L610.1,272.9 L611.0,273.2 L611.9,273.4 L612.8,273.5 L613.7,274.0 L614.5,274.7 L615.4,274.9 L616.4,275.1 L617.2,275.5 L618.0,275.8 L618.7,276.2 L619.4,276.6 L620.2,277.0 L620.9,277.4 L621.6,277.9 L622.1,278.6 L622.8,279.1 L623.5,279.6 L624.1,280.2 L624.8,280.7 L625.4,281.3 L625.7,282.2 L626.0,283.1 L626.5,283.8 L626.9,284.6 L627.1,285.5 L627.4,286.2 L627.6,286.9 L627.7,287.6 L627.8,288.4 L627.7,289.3 L627.8,290.2 L628.2,290.9 L628.3,291.7 L628.3,292.5 L628.3,293.3 L628.4,294.2 L628.7,295.1 L628.7,296.0 L628.7,297.0 L628.9,298.0 L628.9,298.7 L628.8,299.5 L629.0,300.3 L628.9,301.1 L628.6,302.0 L628.4,302.9 L628.7,303.7 L629.2,304.6 L629.4,305.5 L629.1,306.4 L629.0,307.4 L629.1,308.4 L629.2,309.1 L629.6,309.9 L630.0,310.7 L630.1,311.6 L629.9,312.5 L629.9,313.4 L630.2,314.3 L630.2,315.3 L630.0,316.2 L630.1,317.1 L630.5,317.9 L630.8,318.7 L631.0,319.5 L631.0,320.3 L630.7,321.0 L630.8,321.6 L631.2,322.8 L631.6,323.7 L631.7,324.5 L631.8,325.2 L632.2,325.7 L632.8,326.2 L633.1,326.8 L633.5,327.7 L634.3,328.2 L635.1,328.8 L635.6,329.6 L636.2,330.3 L636.9,330.9 L637.6,331.6 L638.3,332.2 L638.9,332.8 L639.6,333.4 L640.3,334.1 L640.9,334.6 L641.6,335.1 L642.4,335.5 L643.1,336.0 L643.9,336.5 L644.6,337.2 L644.8,338.1 L645.2,338.8 L646.1,339.2 L646.8,339.8 L647.3,340.5 L647.7,341.3 L648.3,342.0 L648.9,342.7 L649.2,343.6 L649.6,344.4 L650.5,344.8 L651.4,345.3 L651.7,346.2 L652.0,347.1 L652.7,347.7 L653.4,348.2 L653.9,348.9 L654.5,349.5 L655.1,350.1 L655.5,350.9 L655.9,351.7 L656.3,352.3 L656.9,352.9 L657.6,353.4 L658.4,353.9 L658.9,354.7 L659.3,355.5 L660.0,356.1 L660.8,356.5 L661.6,357.1 L662.1,357.8 L662.6,358.5 L663.2,359.2 L664.0,359.7 L664.7,360.2 L665.3,360.8 L666.0,361.4 L666.7,362.0 L667.2,362.6 L667.9,363.1 L668.5,363.7 L669.1,364.3 L669.9,364.6 L670.7,364.8 L671.5,365.2 L672.1,365.7 L673.1,365.8 L674.0,365.9 L674.6,366.6 L675.3,367.1 L676.1,367.4 L676.9,367.8 L677.8,367.9 L678.7,368.2 L679.4,368.8 L680.1,369.3 L680.8,369.7 L681.6,370.2 L682.3,370.7 L683.2,371.0 L684.0,371.2 L684.8,371.8 L685.5,372.5 L686.4,372.7 L687.2,373.1 L687.9,373.5 L688.7,373.6 L689.9,373.7 L690.9,373.9 L691.5,374.6 L692.2,375.3 L693.0,375.6 L693.8,375.9 L694.4,376.4 L695.0,376.9 L695.7,377.3 L696.6,377.6 L697.3,377.8 L698.0,378.1 L698.8,378.5 L699.6,378.6 L700.5,378.5 L701.4,378.8 L702.2,378.9 L703.0,379.0 L703.8,379.0 L704.6,379.1 L705.4,379.3 L706.1,379.5 L706.9,379.7 L707.7,379.8 L708.5,380.0 L709.3,380.2 L710.2,380.4 L710.9,380.8 L711.7,381.2 L712.5,381.4 L713.4,381.3 L714.2,381.3 L714.9,381.7 L715.7,382.1 L716.5,382.2 L717.2,382.4 L718.0,382.4 L718.9,382.4 L719.7,382.7 L720.5,382.9 L721.3,383.1 L722.1,383.3 L722.9,383.8 L723.6,384.1 L724.3,383.9 L725.4,384.1 L726.2,384.6 L727.0,384.6 L727.5,384.7" fill="none" stroke="#2490AD" stroke-width="4.5" stroke-linejoin="round" stroke-linecap="butt"/>
<path d="M518.90,400.50 C519.05,400.17 519.30,399.23 519.80,398.50 C520.30,397.77 520.90,396.98 521.90,396.10 C522.90,395.22 524.35,394.08 525.80,393.20 C527.25,392.32 528.98,391.58 530.60,390.80 C532.22,390.02 533.70,389.23 535.50,388.50 C537.30,387.77 539.45,387.08 541.40,386.40 C543.35,385.72 545.25,385.02 547.20,384.40 C549.15,383.78 551.15,383.22 553.10,382.70 C555.05,382.18 556.95,381.70 558.90,381.30 C560.85,380.90 562.85,380.58 564.80,380.30 C566.75,380.02 568.73,379.87 570.60,379.60 C572.47,379.33 574.58,378.93 576.00,378.70 C577.42,378.47 577.40,378.48 579.10,378.20 C580.80,377.92 583.83,377.35 586.20,377.00 C588.57,376.65 590.93,376.30 593.30,376.10 C595.67,375.90 598.03,375.95 600.40,375.80 C602.77,375.65 605.28,375.35 607.50,375.20 C609.72,375.05 611.93,375.15 613.70,374.90 C615.47,374.65 616.85,374.27 618.10,373.70 C619.35,373.13 620.30,372.45 621.20,371.50 C622.10,370.55 622.83,369.48 623.50,368.00 C624.17,366.52 624.62,364.53 625.20,362.60 C625.78,360.67 626.50,358.50 627.00,356.40 C627.50,354.30 627.83,353.57 628.20,350.00 C628.57,346.43 628.92,339.73 629.20,335.00 C629.48,330.27 629.72,326.05 629.90,321.60 C630.08,317.15 630.18,312.73 630.30,308.30 C630.42,303.87 630.45,299.72 630.60,295.00 C630.75,290.28 630.98,284.50 631.20,280.00 C631.42,275.50 631.68,271.08 631.90,268.00 C632.12,264.92 632.30,261.50 632.50,261.50 C632.70,261.50 632.88,264.92 633.10,268.00 C633.32,271.08 633.62,275.50 633.80,280.00 C633.98,284.50 634.05,290.28 634.20,295.00 C634.35,299.72 634.47,303.87 634.70,308.30 C634.93,312.73 635.23,317.18 635.60,321.60 C635.97,326.02 636.35,331.27 636.90,334.80 C637.45,338.33 638.12,340.92 638.90,342.80 C639.68,344.68 640.60,345.68 641.60,346.10 C642.60,346.52 643.68,345.83 644.90,345.30 C646.12,344.77 647.68,343.28 648.90,342.90 C650.12,342.52 650.92,342.57 652.20,343.00 C653.48,343.43 655.12,344.53 656.60,345.50 C658.08,346.47 659.43,347.50 661.10,348.80 C662.77,350.10 664.75,351.90 666.60,353.30 C668.45,354.70 670.35,356.00 672.20,357.20 C674.05,358.40 675.87,359.33 677.70,360.50 C679.53,361.67 681.35,363.02 683.20,364.20 C685.05,365.38 686.95,366.43 688.80,367.60 C690.65,368.77 692.43,369.97 694.30,371.20 C696.17,372.43 697.77,373.35 700.00,375.00 C702.23,376.65 705.48,379.53 707.70,381.10 C709.92,382.67 711.45,383.30 713.30,384.40 C715.15,385.50 716.97,386.60 718.80,387.70 C720.63,388.80 722.85,390.17 724.30,391.00 C725.75,391.83 726.97,392.42 727.50,392.70" fill="none" stroke="#EB8C52" stroke-width="4.2" stroke-linejoin="round" stroke-linecap="butt"/>
</g>
<text x="483.89" y="248.88" font-family="Liberation Sans" font-size="13" fill="#3C92AF" textLength="22.77" lengthAdjust="spacingAndGlyphs">101</text>
<text x="491.39" y="275.22" font-family="Liberation Sans" font-size="13" fill="#3C92AF" textLength="15.18" lengthAdjust="spacingAndGlyphs">99</text>
<text x="491.39" y="301.55" font-family="Liberation Sans" font-size="13" fill="#3C92AF" textLength="15.18" lengthAdjust="spacingAndGlyphs">97</text>
<text x="491.26" y="327.88" font-family="Liberation Sans" font-size="13" fill="#3C92AF" textLength="15.18" lengthAdjust="spacingAndGlyphs">95</text>
<text x="491.39" y="354.22" font-family="Liberation Sans" font-size="13" fill="#3C92AF" textLength="15.18" lengthAdjust="spacingAndGlyphs">93</text>
<text x="491.39" y="380.55" font-family="Liberation Sans" font-size="13" fill="#3C92AF" textLength="15.18" lengthAdjust="spacingAndGlyphs">91</text>
<text x="491.39" y="406.88" font-family="Liberation Sans" font-size="13" fill="#3C92AF" textLength="15.18" lengthAdjust="spacingAndGlyphs">89</text>
<text x="739.65" y="248.88" font-family="Liberation Sans" font-size="13" fill="#DF8A50" textLength="15.18" lengthAdjust="spacingAndGlyphs">30</text>
<text x="739.52" y="275.22" font-family="Liberation Sans" font-size="13" fill="#DF8A50" textLength="15.18" lengthAdjust="spacingAndGlyphs">25</text>
<text x="739.52" y="301.55" font-family="Liberation Sans" font-size="13" fill="#DF8A50" textLength="15.18" lengthAdjust="spacingAndGlyphs">20</text>
<text x="739.11" y="327.82" font-family="Liberation Sans" font-size="13" fill="#DF8A50" textLength="15.18" lengthAdjust="spacingAndGlyphs">15</text>
<text x="739.11" y="354.22" font-family="Liberation Sans" font-size="13" fill="#DF8A50" textLength="15.18" lengthAdjust="spacingAndGlyphs">10</text>
<text x="739.65" y="380.49" font-family="Liberation Sans" font-size="13" fill="#DF8A50" textLength="7.59" lengthAdjust="spacingAndGlyphs">5</text>
<text x="739.65" y="406.88" font-family="Liberation Sans" font-size="13" fill="#DF8A50" textLength="7.59" lengthAdjust="spacingAndGlyphs">0</text>
<text x="512.12" y="424.87" font-family="Liberation Sans" font-size="11.5" fill="#595959" textLength="14.07" lengthAdjust="spacingAndGlyphs">50</text>
<text x="547.01" y="424.87" font-family="Liberation Sans" font-size="11.5" fill="#595959" textLength="21.10" lengthAdjust="spacingAndGlyphs">150</text>
<text x="585.83" y="424.87" font-family="Liberation Sans" font-size="11.5" fill="#595959" textLength="21.10" lengthAdjust="spacingAndGlyphs">250</text>
<text x="624.53" y="424.87" font-family="Liberation Sans" font-size="11.5" fill="#595959" textLength="21.10" lengthAdjust="spacingAndGlyphs">350</text>
<text x="663.28" y="424.87" font-family="Liberation Sans" font-size="11.5" fill="#595959" textLength="21.10" lengthAdjust="spacingAndGlyphs">450</text>
<text x="701.79" y="424.87" font-family="Liberation Sans" font-size="11.5" fill="#595959" textLength="21.10" lengthAdjust="spacingAndGlyphs">550</text>
<text x="424.47" y="250.08" font-family="Liberation Serif" font-size="20.11" fill="#000" textLength="24.07" lengthAdjust="spacingAndGlyphs">(d)</text>
<text transform="translate(478.75,363.30) rotate(-90)" font-family="Liberation Sans" font-size="16.88" fill="#3C92AF" textLength="81.83" lengthAdjust="spacingAndGlyphs">Weight [%]</text>
<text transform="translate(770.38,263.80) rotate(90)" font-family="Liberation Sans" font-size="16.56" fill="#DF8A50" textLength="124.47" lengthAdjust="spacingAndGlyphs">Heat Flow [W/g]</text>
<text x="559.76" y="444.09" font-family="Liberation Sans" font-size="16.24" fill="#595959" textLength="130.23" lengthAdjust="spacingAndGlyphs">Temperature [°C]</text>
</svg>
</body></html>
